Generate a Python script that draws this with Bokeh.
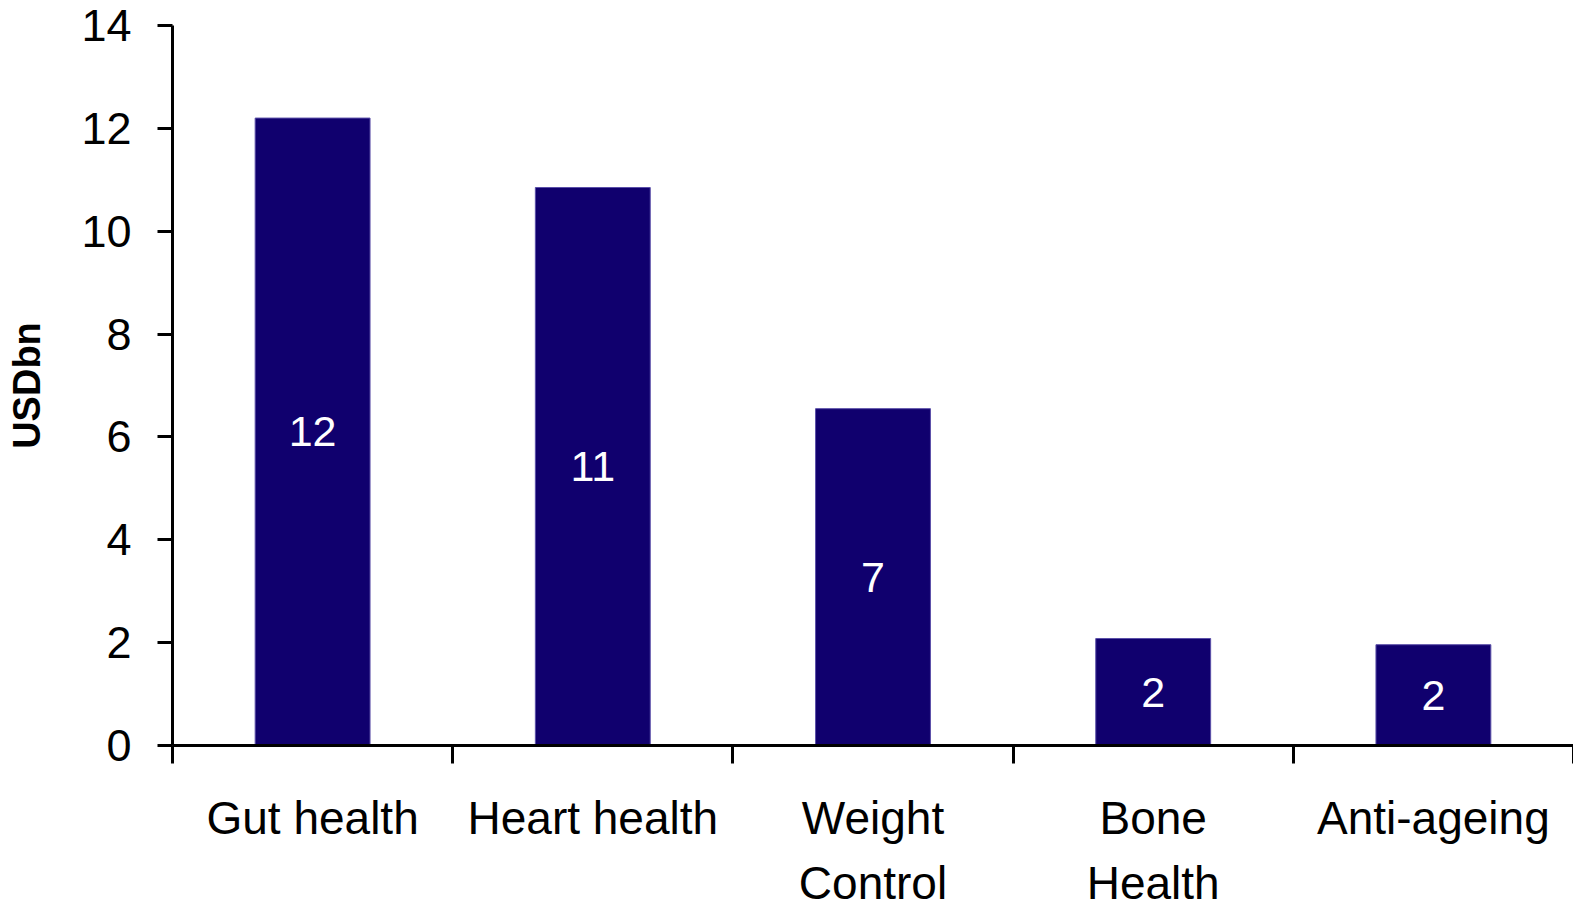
from bokeh.plotting import figure
from bokeh.layouts import column
from bokeh.models import ColumnDataSource, FixedTicker, Range1d
from bokeh.core.properties import value
from bokeh.embed import file_html
from bokeh.resources import INLINE

categories = ["Gut health", "Heart health", "Weight\nControl", "Bone\nHealth", "Anti-ageing"]
values = [12.2, 10.85, 6.55, 2.08, 1.96]
bar_labels = ["12", "11", "7", "2", "2"]
y_ticks = [0, 2, 4, 6, 8, 10, 12, 14]

FONT = "Liberation Sans"
BAR = "#10006E"
W = 1573
FRAME_BOTTOM = 745
TOP_BORDER_BOTTOM = 26
TOP_H = FRAME_BOTTOM + TOP_BORDER_BOTTOM   # chart panel: frame 25..745 px
BOT_H = 901 - TOP_H
NAME_TOP = 791 - TOP_H                      # first name line top, px below panel top

n = len(categories)
centers = [i + 0.5 for i in range(n)]
src = ColumnDataSource(dict(
    x=centers, top=values, mid=[v / 2 for v in values], lab=bar_labels,
    cat=categories,
))
x_range = Range1d(0, n)

p = figure(width=W, height=TOP_H, output_backend="svg", toolbar_location=None,
           x_range=x_range, y_range=Range1d(0, 14),
           min_border_left=172, min_border_right=0, min_border_top=25,
           min_border_bottom=TOP_BORDER_BOTTOM)
p.outline_line_color = None
p.grid.grid_line_color = None
p.background_fill_color = "white"
p.border_fill_color = "white"

p.vbar(x="x", top="top", width=0.41, bottom=0, source=src,
       fill_color=BAR, line_color="#5a4ea8", line_width=1)
p.text(x="x", y="mid", text="lab", source=src, text_color="white",
       text_font=value(FONT), text_font_size="43px",
       text_align="center", text_baseline="middle")

# y axis
ya = p.yaxis[0]
ya.ticker = FixedTicker(ticks=y_ticks, minor_ticks=[])
ya.axis_line_width = 3
ya.axis_line_color = "black"
ya.major_tick_line_width = 3
ya.major_tick_out = 15
ya.major_tick_in = 0
ya.minor_tick_line_color = None
ya.major_label_text_font = FONT
ya.major_label_text_font_size = "45px"
ya.major_label_text_color = "black"
ya.major_label_standoff = 26
ya.axis_label = "USDbn"
ya.axis_label_text_font = FONT
ya.axis_label_text_font_style = "bold"
ya.axis_label_text_font_size = "38px"
ya.axis_label_text_color = "black"
ya.axis_label_standoff = 30

# x axis: ticks at category boundaries (names are set in the panel below)
xa = p.xaxis[0]
xa.ticker = FixedTicker(ticks=centers, minor_ticks=list(range(n + 1)))
xa.major_label_overrides = {c: "" for c in centers}
xa.major_label_text_font_size = "1px"
xa.major_label_standoff = 0
xa.axis_line_width = 3
xa.axis_line_color = "black"
xa.major_tick_line_color = None
xa.major_tick_out = 0
xa.major_tick_in = 0
xa.minor_tick_line_color = "black"
xa.minor_tick_line_width = 3
xa.minor_tick_out = 18
xa.minor_tick_in = 0

# category names panel, sharing the x range
q = figure(width=W, height=BOT_H, output_backend="svg", toolbar_location=None,
           x_range=x_range, y_range=Range1d(0, BOT_H),
           min_border_left=172, min_border_right=0, min_border_top=0,
           min_border_bottom=0)
q.outline_line_color = None
q.grid.grid_line_color = None
q.axis.visible = False
q.background_fill_color = "white"
q.border_fill_color = "white"
q.text(x="x", y=BOT_H - NAME_TOP, text="cat", source=src, text_color="black",
       text_font=value(FONT), text_font_size="46px",
       text_align="center", text_baseline="top", text_line_height=1.25)

layout = column(p, q, spacing=0)
open("out.html", "w").write(file_html(layout, INLINE))
